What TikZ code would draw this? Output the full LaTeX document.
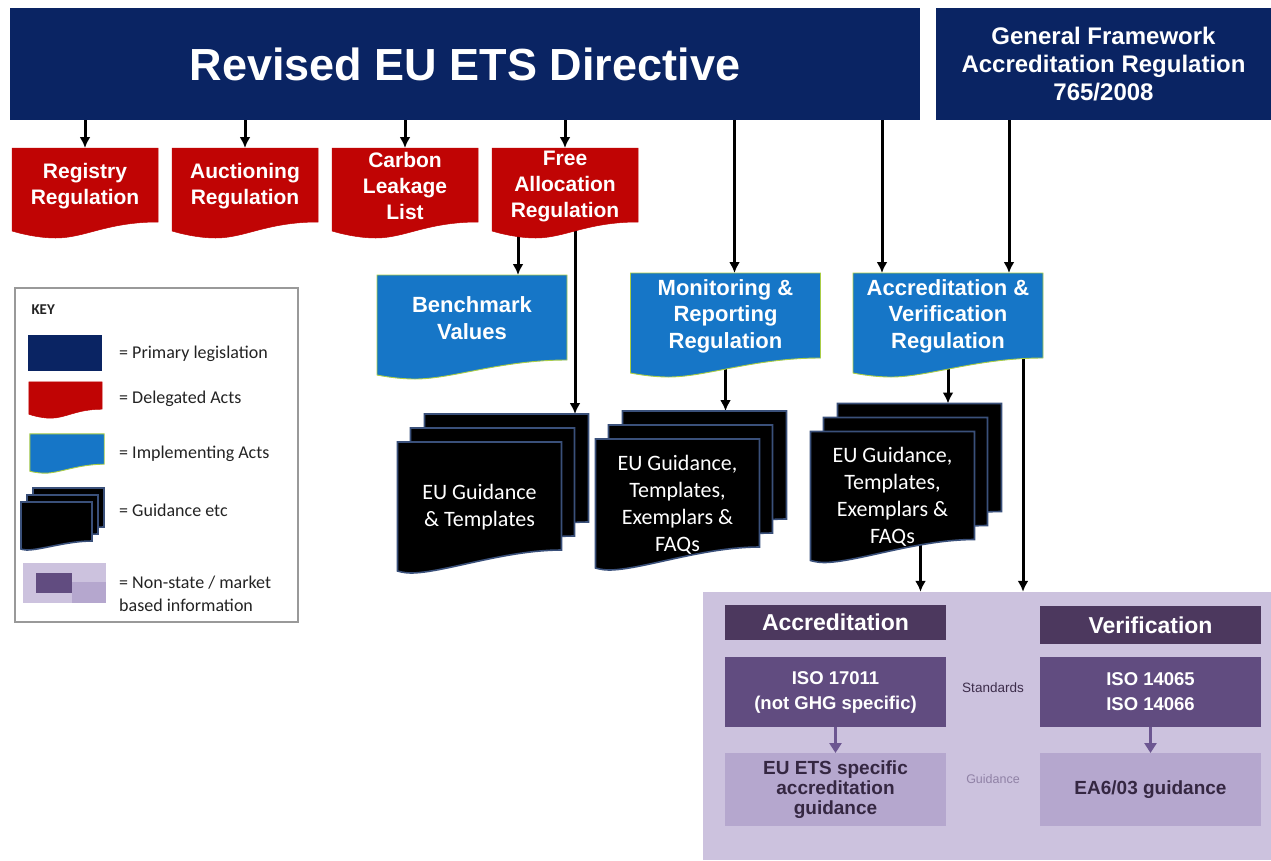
\documentclass[tikz,border=0pt]{standalone}
\usepackage{fontspec}
\setmainfont{Liberation Sans}
\newfontfamily\calibri{Carlito}
\usetikzlibrary{arrows.meta,positioning,calc}

\definecolor{navy}{RGB}{10,36,99}
\definecolor{delred}{RGB}{192,4,4}
\definecolor{impblue}{RGB}{22,118,199}
\definecolor{impedge}{RGB}{170,205,70}
\definecolor{guideedge}{RGB}{58,80,122}
\definecolor{lav}{RGB}{204,194,222}
\definecolor{hdr}{RGB}{76,56,94}
\definecolor{isop}{RGB}{97,76,128}
\definecolor{mktp}{RGB}{181,167,206}
\definecolor{mktarr}{RGB}{108,86,145}
\definecolor{keytext}{RGB}{35,35,35}

\pgfdeclarelayer{bg}
\pgfdeclarelayer{shapes}
\pgfsetlayers{bg,shapes,main}

% wavy bottom under a node: style, node, right end, dip, left end, dip position
\newcommand{\wavefill}[6]{%
  \begin{pgfonlayer}{shapes}
    \filldraw[#1] let \p1=(#2.north west), \p2=(#2.south east), \n1={\x2-\x1} in
      (\x1,\y1) -- (\x2,\y1) -- (\x2,{\y2+(#3)})
      .. controls ({\x2-0.35*\n1},{\y2+(#3)}) and ({\x1+(#6+0.2)*\n1},{\y2-(#4)}) .. ({\x1+#6*\n1},{\y2-(#4)})
      .. controls ({\x1+0.5*#6*\n1},{\y2-(#4)}) and (\x1,{\y2-(#5)}) .. (\x1,{\y2-(#5)}) -- cycle;
  \end{pgfonlayer}}

\tikzset{primary/.style={
    % The shape:
    rectangle, inner sep=0pt, outer sep=0pt,
    % The filling:
    fill=navy,
    % Font
    text=white, align=center
    },
    delegated/.style={
    rectangle, inner sep=0pt, outer sep=0pt,
    minimum width=146pt, minimum height=76pt,
    text=white, align=center,
    font=\fontsize{21}{26}\selectfont\bfseries
    },
    implementing/.style={
    rectangle, inner sep=0pt, outer sep=0pt,
    minimum width=190pt, minimum height=86pt,
    text=white, align=center,
    font=\fontsize{22}{26.5}\selectfont\bfseries
    },
    guidelayer/.style={
    rectangle, inner sep=0pt, outer sep=0pt,
    minimum width=164pt, minimum height=131pt
    },
    guidance/.style={
    guidelayer,
    text=white, align=center,
    font=\calibri\fontsize{22}{27}\selectfont
    },
    redfill/.style={fill=delred, draw=delred, line width=0.5pt},
    bluefill/.style={fill=impblue, draw=impedge, line width=0.9pt},
    blackfill/.style={fill=black, draw=guideedge, line width=1.6pt},
    header/.style={
    rectangle, inner sep=0pt, outer sep=0pt,
    minimum width=221pt, minimum height=35pt,
    fill=hdr, text=white,
    font=\fontsize{23}{27}\selectfont\bfseries
    },
    standard/.style={
    rectangle, inner sep=0pt, outer sep=0pt,
    minimum width=221pt, minimum height=70pt,
    fill=isop, text=white, align=center,
    font=\fontsize{18.5}{25}\selectfont\bfseries
    },
    mktguide/.style={
    rectangle, inner sep=0pt, outer sep=0pt,
    minimum width=221pt, minimum height=73pt,
    fill=mktp, text=hdr!70!black, align=center,
    font=\fontsize{19}{20}\selectfont\bfseries
    },
    keylabel/.style={
    anchor=west, inner sep=0pt, text=keytext, align=left,
    font=\calibri\fontsize{18}{23}\selectfont
    },
    arr/.style={line width=3pt, -{Latex[length=11pt,width=11pt]}},
    parr/.style={draw=mktarr, line width=3.4pt, -{Triangle[length=10pt,width=12pt]}},
}

\begin{document}
\begin{tikzpicture}[x=1pt, y=-1pt, node distance=0pt and 14pt]
  \useasboundingbox (0,0) rectangle (1271,860);

  % primary legislation
  \node (directive) [primary, minimum width=910pt, minimum height=112pt,
    font=\fontsize{45}{50}\selectfont\bfseries] at (465,64) {Revised EU ETS Directive};
  \node (gf) [primary, minimum width=335pt, minimum height=112pt,
    font=\fontsize{24}{28}\selectfont\bfseries] at (1103.5,64)
    {General Framework\\Accreditation Regulation\\765/2008};

  % delegated acts
  \node (reg) [delegated] at (85,186) {Registry\\Regulation};
  \node (auc) [delegated, right=of reg] {Auctioning\\Regulation};
  \node (cll) [delegated, right=of auc] {Carbon\\Leakage\\List};
  \node (fa)  [delegated, right=of cll] {Free\\Allocation\\Regulation};
  \foreach \s in {reg,auc,cll,fa}
    \wavefill{redfill}{\s}{2}{14}{7}{0.3};

  % implementing acts
  \node (bench) [implementing] at (472,318) {Benchmark\\Values};
  \node (mrr)   [implementing] at (725.5,316) {Monitoring \&\\Reporting\\Regulation};
  \node (avr)   [implementing] at (948,316) {Accreditation \&\\Verification\\Regulation};
  \foreach \s in {bench,mrr,avr}
    \wavefill{bluefill}{\s}{1}{18}{14}{0.2};

  % guidance stacks
  \node (g1) [guidance] at (479.5,507.5) {EU Guidance\\\& Templates};
  \node (g2) [guidance] at (677.5,504.5) {EU Guidance,\\Templates,\\Exemplars \&\\FAQs};
  \node (g3) [guidance] at (892.5,497) {EU Guidance,\\Templates,\\Exemplars \&\\FAQs};
  \foreach \s in {g1,g2,g3} {
    \node (\s b) [guidelayer] at ([shift={(13,-14)}]\s.center) {};
    \node (\s c) [guidelayer] at ([shift={(27,-28)}]\s.center) {};
    \wavefill{blackfill}{\s c}{23}{0}{-2}{0.08};
    \wavefill{blackfill}{\s b}{23}{0}{-2}{0.08};
    \wavefill{blackfill}{\s}{23}{0}{-2}{0.08};
  }

  % non-state / market based information
  \node (ns) [fill=lav, minimum width=568pt, minimum height=268pt, inner sep=0pt] at (987,726) {};
  \node (acch) [header] at (835.5,622.5) {Accreditation};
  \node (verh) [header, minimum height=38pt] at (1150.5,625) {Verification};
  \node (iso1) [standard] at (835.5,692) {ISO 17011\\(not GHG specific)};
  \node (iso2) [standard] at (1150.5,692) {ISO 14065\\ISO 14066};
  \node (euets) [mktguide] at (835.5,789.5) {EU ETS specific\\accreditation\\guidance};
  \node (ea) [mktguide] at (1150.5,789.5) {EA6/03 guidance};
  \node (stdlbl) [font=\fontsize{13.5}{16}\selectfont, text=hdr!80!black]
    at ([yshift=4pt]$(iso1.east)!0.5!(iso2.west)$) {Standards};
  \node (gdlbl) [font=\fontsize{12.5}{16}\selectfont, text=isop!70]
    at ([yshift=10pt]$(euets.east)!0.5!(ea.west)$) {Guidance};
  \draw[parr] (iso1) -- (euets);
  \draw[parr] (iso2) -- (ea);

  % key
  \node (key) [draw=gray!80, line width=1.4pt, minimum width=283pt, minimum height=334pt] at (156.5,455) {};
  \node (keytitle) [anchor=west, text=keytext, font=\calibri\bfseries\fontsize{15}{18}\selectfont] at (28,310) {KEY};
  \node (keyprim) [primary, minimum width=74pt, minimum height=36pt] at (65,353) {};
  \node (keydel) [rectangle, inner sep=0pt, minimum width=73pt, minimum height=28pt] at (65.5,396) {};
  \wavefill{redfill}{keydel}{1}{8}{4}{0.3};
  \node (keyimp) [rectangle, inner sep=0pt, minimum width=74pt, minimum height=31pt] at (67,449.5) {};
  \wavefill{bluefill}{keyimp}{1}{8}{6}{0.2};
  \node (keyg) [guidelayer, minimum width=71pt, minimum height=48pt] at (56.5,526) {};
  \node (keygb) [guidelayer, minimum width=71pt, minimum height=48pt] at ([shift={(6,-7)}]keyg.center) {};
  \node (keygc) [guidelayer, minimum width=71pt, minimum height=48pt] at ([shift={(12,-14)}]keyg.center) {};
  \wavefill{blackfill}{keygc}{9}{0}{-1}{0.08};
  \wavefill{blackfill}{keygb}{9}{0}{-1}{0.08};
  \wavefill{blackfill}{keyg}{9}{0}{-1}{0.08};
  \node (keyns) [fill=lav, minimum width=83pt, minimum height=40pt, inner sep=0pt] at (64.5,583) {};
  \node (keynsa) [fill=isop, minimum width=36pt, minimum height=20pt, inner sep=0pt] at (54,583) {};
  \node (keynsb) [fill=mktp, minimum width=34pt, minimum height=21pt, inner sep=0pt] at (89,592.5) {};

  \node (lprim) [keylabel] at (119,354) {= Primary legislation};
  \node (ldel)  [keylabel] at (119,399) {= Delegated Acts};
  \node (limp)  [keylabel] at (119,454) {= Implementing Acts};
  \node (lgd)   [keylabel] at (119,510) {= Guidance etc};
  \node (lns)   [keylabel] at (119,593.5) {= Non-state / market\\based information};

  % connectors
  \begin{pgfonlayer}{bg}
    \foreach \s in {reg,auc,cll,fa}
      \draw[arr] (\s.north |- directive.south) -- (\s.north);
    \draw[arr] ([xshift=-47pt]fa.center) -- ([xshift=-47pt]fa.center |- bench.north);
    \draw[arr] ([xshift=10pt]fa.center) -- ([xshift=10pt]fa.center |- g1c.north);
    \draw[arr] ([xshift=9pt]mrr.north |- directive.south) -- ([xshift=9pt]mrr.north);
    \draw[arr] ([xshift=-66pt]avr.north |- directive.south) -- ([xshift=-66pt]avr.north);
    \draw[arr] ([xshift=61pt]avr.north |- gf.south) -- ([xshift=61pt]avr.north);
    \draw[arr] (mrr.center) -- (mrr.center |- g2c.north);
    \draw[arr] (avr.center) -- (avr.center |- g3c.north);
    \draw[arr] ([xshift=75pt]avr.center) -- ([xshift=75pt]avr.center |- ns.north);
    \draw[arr] ([xshift=28pt]g3.center) -- ([xshift=28pt]g3.center |- ns.north);
  \end{pgfonlayer}
\end{tikzpicture}
\end{document}
